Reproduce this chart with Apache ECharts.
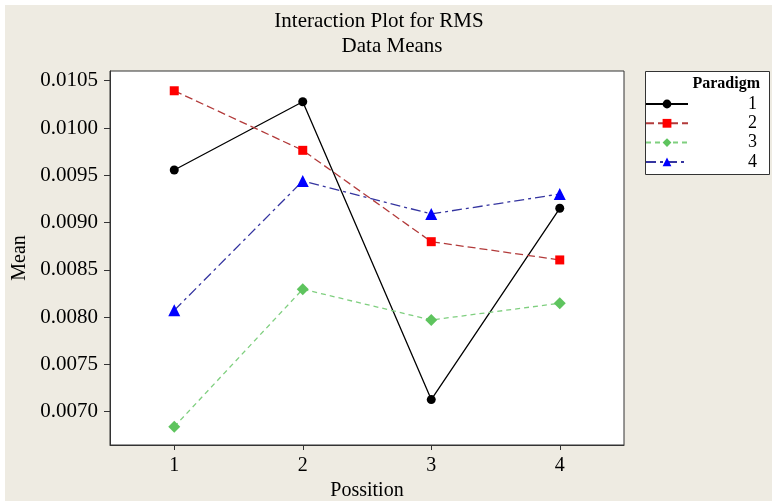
<!DOCTYPE html>
<html>
<head>
<meta charset="utf-8">
<script src="https://cdn.jsdelivr.net/npm/echarts@6/dist/echarts.min.js"></script>
<style>
html,body{margin:0;padding:0;background:#fff;}
#c{width:772px;height:501px;}
</style>
</head>
<body>
<div id="c"></div>
<script>
const positions = ['1', '2', '3', '4'];
const paradigm1 = [0.009556, 0.010278, 0.007128, 0.009151];
const paradigm2 = [0.010394, 0.009764, 0.008798, 0.008605];
const paradigm3 = [0.006841, 0.008296, 0.007970, 0.008147];
const paradigm4 = [0.008072, 0.009440, 0.009091, 0.009302];
const yTicks = [0.0070, 0.0075, 0.0080, 0.0085, 0.0090, 0.0095, 0.0100, 0.0105];

const serif = 'Liberation Serif';
const chart = echarts.init(document.getElementById('c'));
chart.setOption({
  animation: false,
  backgroundColor: '#fff',
  graphic: [
    { type: 'rect', z: -10, shape: { x: 5, y: 5, width: 767, height: 496 }, style: { fill: '#eeebe2' } },
    { type: 'rect', z: 1, shape: { x: 645.5, y: 71.5, width: 124, height: 103 }, style: { fill: '#fff', stroke: '#333', lineWidth: 1 } },
    { type: 'text', z: 2, style: { x: 760, y: 84, text: 'Paradigm', font: 'bold 16px "Liberation Serif"', fill: '#000', align: 'right', verticalAlign: 'middle' } },
    { type: 'text', z: 2, style: { x: 379, y: 21, text: 'Interaction Plot for RMS', font: '21px "Liberation Serif"', fill: '#000', align: 'center', verticalAlign: 'middle' } },
    { type: 'text', z: 2, style: { x: 392, y: 46, text: 'Data Means', font: '21px "Liberation Serif"', fill: '#000', align: 'center', verticalAlign: 'middle' } }
  ],
  grid: { left: 110, top: 71, right: 148, bottom: 56, show: true, backgroundColor: '#fff', borderColor: '#333', borderWidth: 1, containLabel: false, outerBoundsMode: 'none' },
  legend: {
    orient: 'vertical', left: 645, top: 95, itemWidth: 42, itemHeight: 11, itemGap: 1.3, padding: 0,
    z: 5,
    formatter: n => '{a|' + n + '}',
    textStyle: { rich: { a: { fontFamily: serif, fontSize: 18, color: '#000', width: 64, align: 'right', lineHeight: 12 } } },
    data: ['1', '2', '3', '4']
  },
  xAxis: {
    type: 'category', data: positions, boundaryGap: true,
    name: 'Possition', nameLocation: 'middle', nameGap: 35,
    nameTextStyle: { fontFamily: serif, fontSize: 20, color: '#000' },
    axisLine: { show: true, lineStyle: { color: '#333' } },
    axisTick: { show: true, alignWithLabel: true, length: 5, lineStyle: { color: '#333' } },
    axisLabel: { fontFamily: serif, fontSize: 20, color: '#000', margin: 11 },
    splitLine: { show: false }
  },
  yAxis: {
    type: 'value', min: 0.006648, max: 0.010603,
    name: 'Mean', nameLocation: 'middle', nameGap: 77, nameRotate: 90,
    nameTextStyle: { fontFamily: serif, fontSize: 20, color: '#000' },
    axisLine: { show: true, lineStyle: { color: '#333' } },
    axisTick: { show: true, length: 6, customValues: yTicks, lineStyle: { color: '#333' } },
    axisLabel: { fontFamily: serif, fontSize: 21, color: '#000', margin: 12, customValues: yTicks, formatter: v => v.toFixed(4) },
    splitLine: { show: false }
  },
  series: [
    { name: '1', type: 'line', data: paradigm1, symbol: 'circle', symbolSize: 9,
      itemStyle: { color: '#000' }, lineStyle: { color: '#000', width: 1.3, type: 'solid' } },
    { name: '2', type: 'line', data: paradigm2, symbol: 'rect', symbolSize: 9,
      itemStyle: { color: '#ff0000' }, lineStyle: { color: '#b23a3a', width: 1.3, type: [8, 4] } },
    { name: '3', type: 'line', data: paradigm3, symbol: 'diamond', symbolSize: 12,
      itemStyle: { color: '#5ec45e' }, lineStyle: { color: '#7fcf7f', width: 1.3, type: [5, 4] } },
    { name: '4', type: 'line', data: paradigm4, symbol: 'triangle', symbolSize: 12,
      itemStyle: { color: '#0000ff' }, lineStyle: { color: '#3535a0', width: 1.3, type: [10, 4, 3, 4] } }
  ]
});
</script>
</body>
</html>
